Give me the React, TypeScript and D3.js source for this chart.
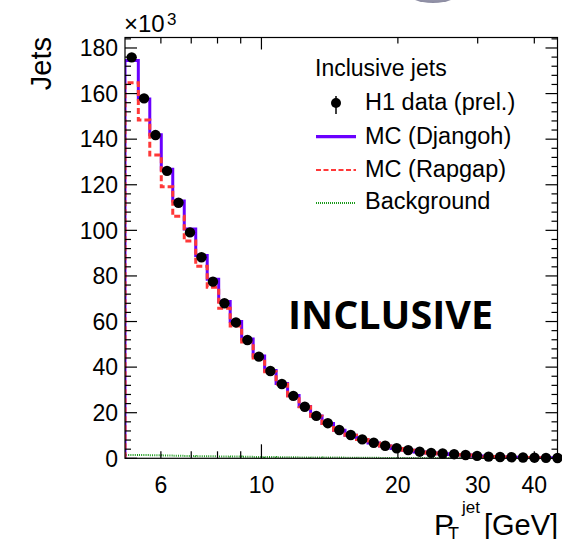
import React from "react";
import * as d3 from "d3";

// ---- data ----
const binEdges = [5, 5.35, 5.671, 6.012, 6.373, 6.756, 7.162, 7.592, 8.048, 8.532, 9.044, 9.588, 10.164, 10.774, 11.421, 12.108, 12.835, 13.606, 14.424, 15.29, 16.209, 17.183, 18.215, 19.309, 20.469, 21.699, 23.003, 24.385, 25.85, 27.403, 29.049, 30.795, 32.645, 34.606, 36.685, 38.889, 41.226, 43.703, 46.329];
const h1Data = [175.9, 157.9, 141.8, 126.1, 112.1, 99.1, 88.2, 77.5, 68.0, 59.6, 51.9, 44.6, 38.3, 32.6, 27.4, 22.6, 18.6, 15.4, 12.4, 10.2, 8.3, 6.8, 5.5, 4.4, 3.6, 2.9, 2.4, 2.1, 1.8, 1.45, 1.05, 0.75, 0.55, 0.45, 0.35, 0.27, 0.2, 0.15];
const djangoh = [174.5, 157.6, 141.9, 126.8, 112.9, 100.6, 89.0, 78.6, 68.8, 60.0, 52.3, 44.9, 38.5, 32.8, 27.5, 22.7, 18.6, 15.3, 12.3, 10.1, 8.2, 6.7, 5.4, 4.3, 3.5, 2.8, 2.3, 2.0, 1.7, 1.4, 1.0, 0.75, 0.55, 0.45, 0.35, 0.27, 0.2, 0.15];
const rapgap = [164.7, 148.4, 133.0, 119.1, 106.2, 95.3, 84.3, 75.0, 65.8, 58.0, 51.0, 44.0, 38.0, 32.5, 27.3, 22.6, 18.5, 15.3, 12.3, 10.1, 8.2, 6.7, 5.4, 4.3, 3.5, 2.8, 2.3, 2.0, 1.7, 1.4, 1.0, 0.75, 0.55, 0.45, 0.35, 0.27, 0.2, 0.15];
const background = [1.5, 1.4, 1.35, 1.25, 1.15, 1.05, 0.95, 0.9, 0.8, 0.75, 0.7, 0.6, 0.55, 0.5, 0.45, 0.4, 0.35, 0.3, 0.3, 0.25, 0.2, 0.2, 0.15, 0.15, 0.1, 0.1, 0.1, 0.08, 0.06, 0.05, 0.05, 0.04, 0.03, 0.03, 0.02, 0.02, 0.01, 0.01];
const xLabelValues = [6, 10, 20, 30, 40];
const xLabelTexts = ["6", "10", "20", "30", "40"];
const xMinorTicks = [6, 7, 8, 9, 20, 30, 40];
const xMajorTicks = [10];
const yMajorTicks = [0, 20, 40, 60, 80, 100, 120, 140, 160, 180];
const legendTitle = "Inclusive jets";
const legendEntries = ["H1 data (prel.)", "MC (Djangoh)", "MC (Rapgap)", "Background"];

const W = 562, H = 539;
const L = 125, R = 557.5, T = 37.5, B = 458.3;
const FONT = "'Liberation Sans', Arial, Helvetica, sans-serif";

export default function App() {
  const x = d3.scaleLog().domain([5, 45]).range([L, R]);
  const y = d3.scaleLinear().domain([0, 184.6]).range([B, T]);

  const histPath = (vals: number[]) => {
    const pts: [number, number][] = [[x(binEdges[0]), y(0)]];
    vals.forEach((v, i) => {
      pts.push([x(binEdges[i]), y(v)]);
      pts.push([x(binEdges[i + 1]), y(v)]);
    });
    return d3.line()(pts) || "";
  };

  const yMinor = d3.range(0, 185, 4).filter((v) => v % 20 !== 0);
  const centers = h1Data.map((_, i) => Math.sqrt(binEdges[i] * binEdges[i + 1]));

  const legY = [103, 136.7, 170, 203];
  const legTextY = [110, 143.5, 177, 209];

  return (
    <svg width={W} height={H} style={{ position: "absolute", left: 0, top: 0, background: "#fff" }}>
      <defs>
        <clipPath id="plot">
          <rect x={L} y={T} width={R - L} height={B - T} />
        </clipPath>
        <radialGradient id="blob" cx="50%" cy="30%" r="70%">
          <stop offset="0%" stopColor="#c8c8d8" />
          <stop offset="100%" stopColor="#8a8aa0" />
        </radialGradient>
      </defs>
      <rect x={0} y={0} width={W} height={H} fill="#fff" />
      <ellipse cx={433} cy={-9} rx={27} ry={12} fill="url(#blob)" />

      {/* histograms */}
      <g clipPath="url(#plot)" fill="none">
        <path d={histPath(background)} stroke="#1a9a1a" strokeWidth={2} strokeDasharray="1 1.2" />
        <path d={histPath(djangoh)} stroke="#6a00ff" strokeWidth={3} />
        <path d={histPath(rapgap)} stroke="#ff3838" strokeWidth={3} strokeDasharray="6 3" />
      </g>

      {/* frame */}
      <rect x={L} y={T} width={R - L} height={B - T} fill="none" stroke="#000" strokeWidth={1.2} />

      {/* y ticks */}
      {yMajorTicks.map((v) => (
        <g key={"ym" + v}>
          <line x1={L} x2={L + 12} y1={y(v)} y2={y(v)} stroke="#000" strokeWidth={1.2} />
          <line x1={R} x2={R - 12} y1={y(v)} y2={y(v)} stroke="#000" strokeWidth={1.2} />
          <text x={118} y={y(v)} dy="0.36em" textAnchor="end" fontFamily={FONT} fontSize={23}>{String(v)}</text>
        </g>
      ))}
      {yMinor.map((v) => (
        <g key={"yn" + v}>
          <line x1={L} x2={L + 6} y1={y(v)} y2={y(v)} stroke="#000" strokeWidth={1.2} />
          <line x1={R} x2={R - 6} y1={y(v)} y2={y(v)} stroke="#000" strokeWidth={1.2} />
        </g>
      ))}

      {/* x ticks */}
      {xMinorTicks.map((v) => (
        <g key={"xn" + v}>
          <line x1={x(v)} x2={x(v)} y1={B} y2={B - 7} stroke="#000" strokeWidth={1.2} />
          <line x1={x(v)} x2={x(v)} y1={T} y2={T + 6} stroke="#000" strokeWidth={1.2} />
        </g>
      ))}
      {xMajorTicks.map((v) => (
        <g key={"xm" + v}>
          <line x1={x(v)} x2={x(v)} y1={B} y2={B - 14} stroke="#000" strokeWidth={1.2} />
          <line x1={x(v)} x2={x(v)} y1={T} y2={T + 12} stroke="#000" strokeWidth={1.2} />
        </g>
      ))}
      {xLabelValues.map((v, i) => (
        <text key={"xl" + v} x={x(v)} y={493} textAnchor="middle" fontFamily={FONT} fontSize={23}>{xLabelTexts[i]}</text>
      ))}

      {/* data points */}
      {h1Data.map((v, i) => (
        <circle key={"d" + i} cx={x(centers[i])} cy={y(v)} r={5.2} fill="#000" />
      ))}

      {/* axis titles */}
      <text transform="translate(51,37) rotate(-90)" textAnchor="end" fontFamily={FONT} fontSize={29}>Jets</text>
      <text x={124} y={32} fontFamily={FONT} fontSize={24}>×10</text>
      <text x={167} y={25} fontFamily={FONT} fontSize={17}>3</text>
      <text x={434} y={535} fontFamily={FONT} fontSize={30}>P</text>
      <text x={448} y={540} fontFamily={FONT} fontSize={18}>T</text>
      <text x={462} y={513} fontFamily={FONT} fontSize={17}>jet</text>
      <text x={484} y={535} fontFamily={FONT} fontSize={29}>[GeV]</text>

      {/* legend */}
      <text x={315} y={76} fontFamily={FONT} fontSize={23}>{legendTitle}</text>
      <line x1={336} x2={336} y1={legY[0] - 7} y2={legY[0] + 11} stroke="#000" strokeWidth={1.5} />
      <circle cx={336} cy={legY[0]} r={5} fill="#000" />
      <line x1={316} x2={356} y1={legY[1]} y2={legY[1]} stroke="#6a00ff" strokeWidth={3.3} />
      <line x1={316} x2={356} y1={legY[2]} y2={legY[2]} stroke="#ff3838" strokeWidth={2} strokeDasharray="5 2.5" />
      <line x1={316} x2={356} y1={legY[3]} y2={legY[3]} stroke="#1a9a1a" strokeWidth={2} strokeDasharray="1 1" />
      {legendEntries.map((t, i) => (
        <text key={t} x={365} y={legTextY[i]} fontFamily={FONT} fontSize={23.5}>{t}</text>
      ))}

      <text x={288} y={329} fontFamily="'Open Sans', sans-serif" fontWeight="bold" fontSize={40} textLength={205} lengthAdjust="spacingAndGlyphs">INCLUSIVE</text>
    </svg>
  );
}
